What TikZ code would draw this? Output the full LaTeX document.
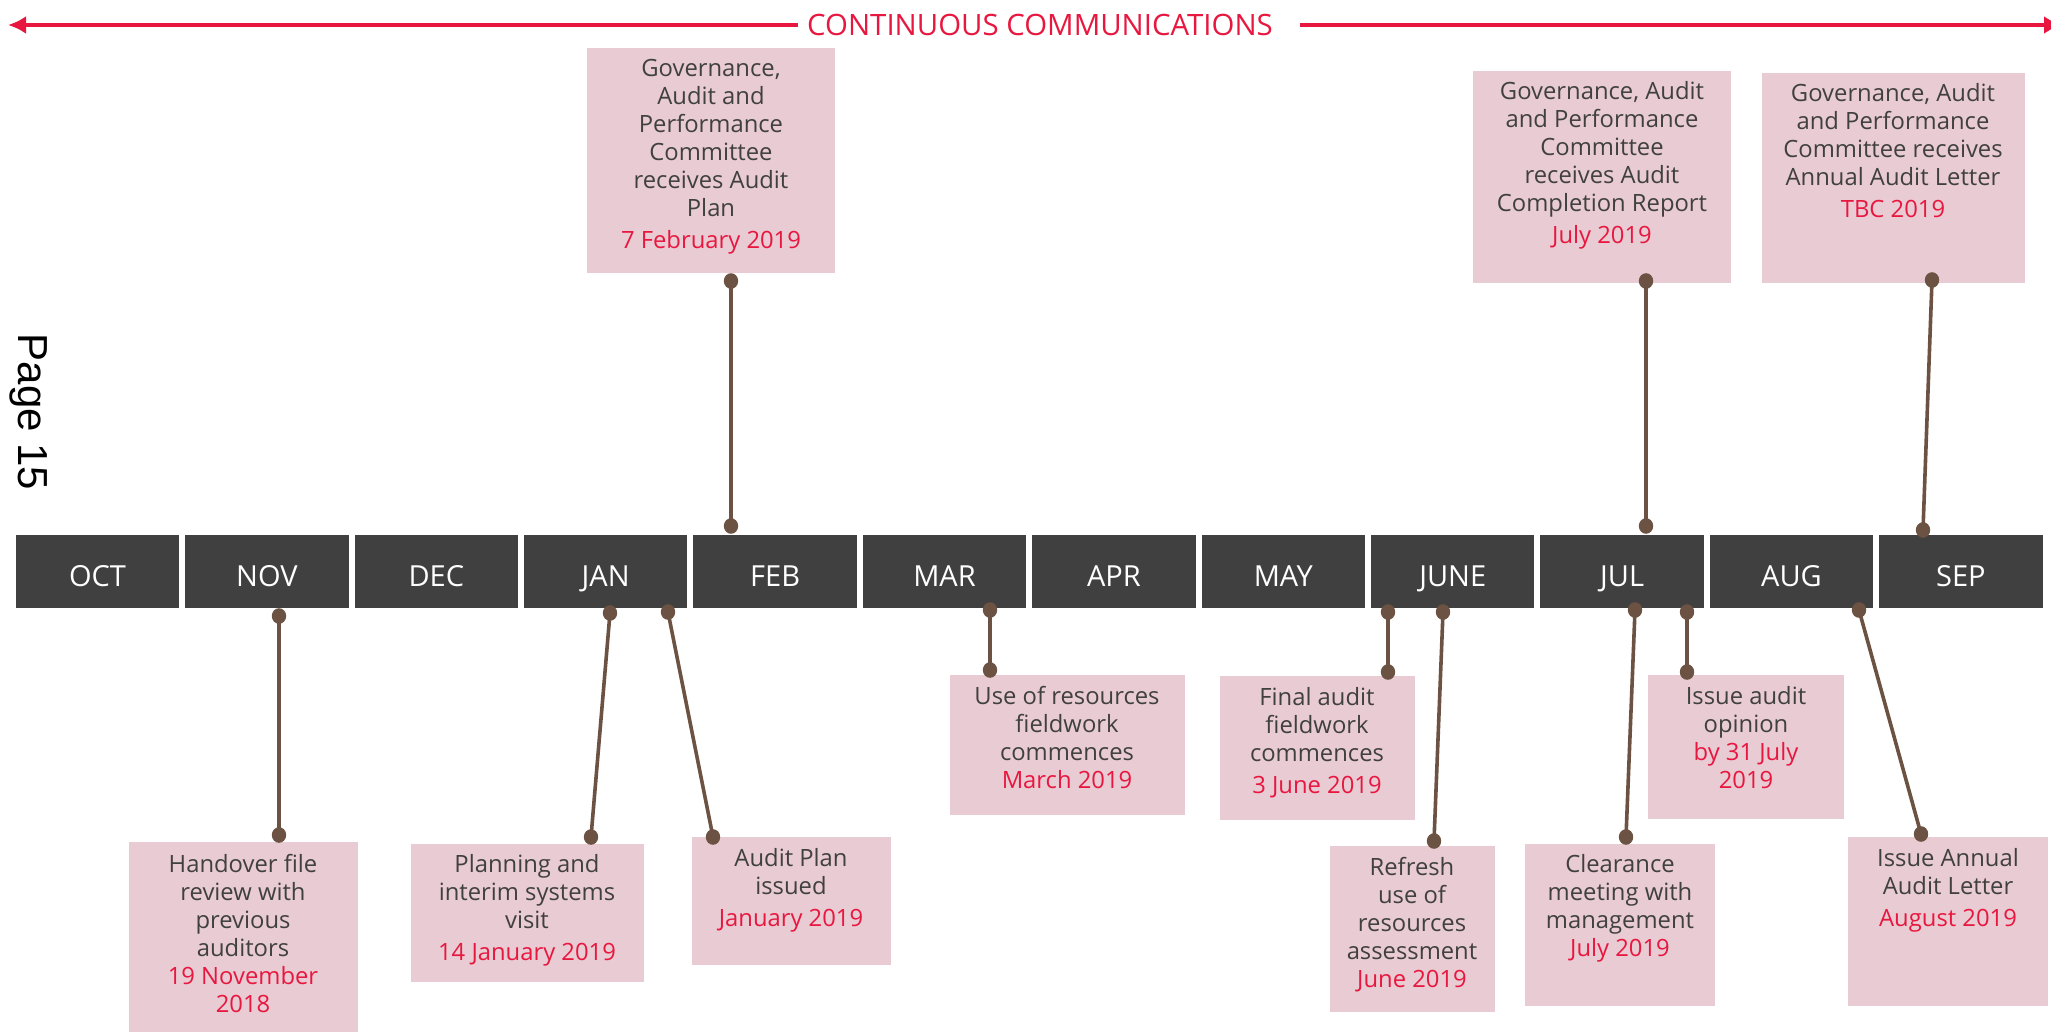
\documentclass[tikz,border=0pt]{standalone}
\usepackage{fontspec}
\setmainfont{Open Sans}
\newfontfamily\pagefont{Liberation Sans}
\usetikzlibrary{arrows.meta,shapes.geometric}
\definecolor{barGrey}{HTML}{404040}
\definecolor{boxPink}{HTML}{E9CBD3}
\definecolor{dateRed}{HTML}{E8173F}
\definecolor{linkBrown}{HTML}{6B5242}
\definecolor{txtGrey}{HTML}{404040}
\newcommand\evdate[1]{\textcolor{dateRed}{#1}}

\begin{document}
\begin{tikzpicture}[x=0.5pt,y=-0.5pt,
  month/.style={fill=barGrey,text=white,minimum width=81.75pt,minimum height=36.5pt,inner sep=0,text height=14.5pt,text depth=0pt,font=\fontsize{14.5}{16}\selectfont},
  evtext/.style={anchor=north,align=center,inner sep=0,text=txtGrey,font=\fontsize{11.9}{14}\selectfont},
  dot/.style={ellipse,fill=linkBrown,inner sep=0,minimum width=7.2pt,minimum height=7.8pt},
  link/.style={linkBrown,line width=1.8pt},
  comm/.style={dateRed,line width=2.2pt}]
\useasboundingbox (0,0) rectangle (2051,1032);

% continuous communications
\node[text=dateRed,inner sep=0,font=\fontsize{14.7}{16}\selectfont] (hdr) at (1040,25) {CONTINUOUS COMMUNICATIONS};
\coordinate (commL) at (8,25);
\coordinate (commR) at (2062,25);
\draw[comm,-{Latex[length=9pt,width=9pt]}] ([xshift=-4.5pt]hdr.west) -- (commL);
\draw[comm,-{Latex[length=9pt,width=9pt]}] ([xshift=13.5pt]hdr.east) -- (commR);

\node[rotate=-90,font=\pagefont\fontsize{21}{24}\selectfont] (pg) at (29,412) {Page 15};

% months
\foreach \m [count=\i from 0] in {OCT,NOV,DEC,JAN,FEB,MAR,APR,MAY,JUNE,JUL,AUG,SEP}
  \node[month] (m\i) at ({97.5+169.4*\i},571.5) {\m};

% boxes
\fill[boxPink] (587,48) rectangle (835,273);
\fill[boxPink] (1473,71) rectangle (1731,283);
\fill[boxPink] (1762,73) rectangle (2025,283);
\fill[boxPink] (129,842) rectangle (358,1040);
\fill[boxPink] (411,844) rectangle (644,982);
\fill[boxPink] (692,837) rectangle (891,965);
\fill[boxPink] (950,675) rectangle (1185,815);
\fill[boxPink] (1220,676) rectangle (1415,820);
\fill[boxPink] (1330,846) rectangle (1495,1012);
\fill[boxPink] (1525,844) rectangle (1715,1006);
\fill[boxPink] (1648,675) rectangle (1844,819);
\fill[boxPink] (1848,837) rectangle (2048,1006);

% texts
\node[evtext] (febTxt) at (711,59) {Governance,\\Audit and\\Performance\\Committee\\receives Audit\\Plan\\[2pt]\evdate{7 February 2019}};
\node[evtext] (julTxt) at (1602,81) {Governance, Audit\\and Performance\\Committee\\receives Audit\\Completion Report\\[2pt]\evdate{July 2019}};
\node[evtext] (tbcTxt) at (1893,83) {Governance, Audit\\and Performance\\Committee receives\\Annual Audit Letter\\[2pt]\evdate{TBC 2019}};
\node[evtext] (handTxt) at (243,854) {Handover file\\review with\\previous\\auditors\\\evdate{19 November}\\\evdate{2018}};
\node[evtext] (planTxt) at (527,854) {Planning and\\interim systems\\visit\\[2pt]\evdate{14 January 2019}};
\node[evtext] (issTxt) at (791,848) {Audit Plan\\issued\\[2pt]\evdate{January 2019}};
\node[evtext] (useTxt) at (1067,686) {Use of resources\\fieldwork\\commences\\\evdate{March 2019}};
\node[evtext] (finTxt) at (1317,687) {Final audit\\fieldwork\\commences\\[2pt]\evdate{3 June 2019}};
\node[evtext] (refTxt) at (1412,857) {Refresh\\use of\\resources\\assessment\\\evdate{June 2019}};
\node[evtext] (clrTxt) at (1620,854) {Clearance\\meeting with\\management\\\evdate{July 2019}};
\node[evtext] (opnTxt) at (1746,686) {Issue audit\\opinion\\\evdate{by 31 July}\\\evdate{2019}};
\node[evtext] (aalTxt) at (1948,848) {Issue Annual\\Audit Letter\\[2pt]\evdate{August 2019}};

% connectors
\node[dot] (febA) at (731,281) {};  \node[dot] (febB) at (731,526) {};
\node[dot] (julA) at (1646,281) {}; \node[dot] (julB) at (1646,526) {};
\node[dot] (tbcA) at (1932,280) {}; \node[dot] (tbcB) at (1923,530) {};
\node[dot] (handA) at (279,616) {}; \node[dot] (handB) at (279,835) {};
\node[dot] (planA) at (610,613) {}; \node[dot] (planB) at (591,837) {};
\node[dot] (issA) at (668,612) {};  \node[dot] (issB) at (713,837) {};
\node[dot] (useA) at (990,610) {};  \node[dot] (useB) at (990,670) {};
\node[dot] (finA) at (1388,612) {}; \node[dot] (finB) at (1388,672) {};
\node[dot] (refA) at (1443,612) {}; \node[dot] (refB) at (1434,841) {};
\node[dot] (clrA) at (1635,610) {}; \node[dot] (clrB) at (1626,837) {};
\node[dot] (opnA) at (1687,612) {}; \node[dot] (opnB) at (1687,672) {};
\node[dot] (aalA) at (1859,610) {}; \node[dot] (aalB) at (1921,834) {};
\draw[link] (febA.center) -- (febB.center);
\draw[link] (julA.center) -- (julB.center);
\draw[link] (tbcA.center) -- (tbcB.center);
\draw[link] (handA.center) -- (handB.center);
\draw[link] (planA.center) -- (planB.center);
\draw[link] (issA.center) -- (issB.center);
\draw[link] (useA.center) -- (useB.center);
\draw[link] (finA.center) -- (finB.center);
\draw[link] (refA.center) -- (refB.center);
\draw[link] (clrA.center) -- (clrB.center);
\draw[link] (opnA.center) -- (opnB.center);
\draw[link] (aalA.center) -- (aalB.center);
\end{tikzpicture}
\end{document}
